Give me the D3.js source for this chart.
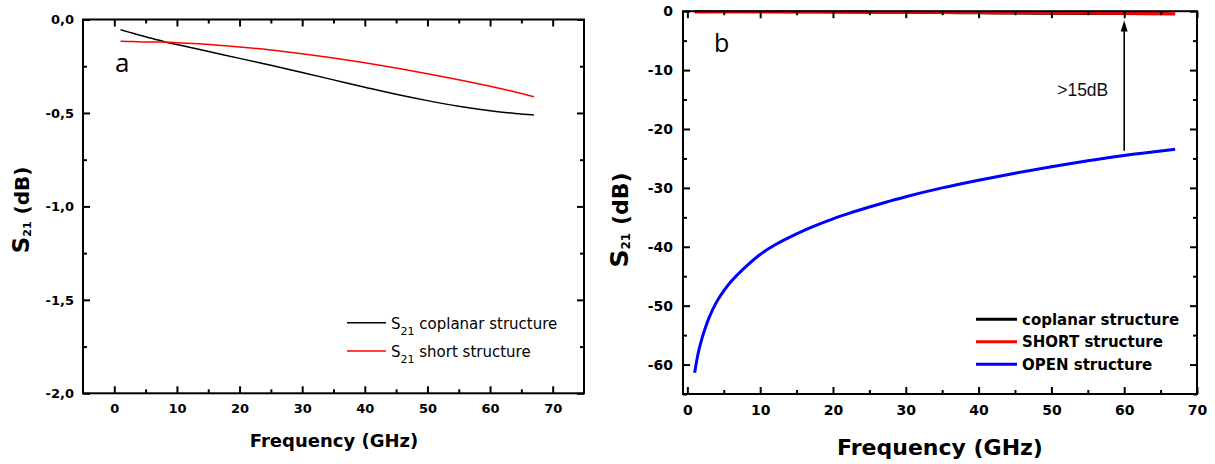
<!DOCTYPE html>
<html><head><meta charset="utf-8">
<script src="https://cdn.jsdelivr.net/npm/d3@7"></script>
<style>body{margin:0;background:#fff}svg{display:block}</style>
</head><body><svg id="c" width="1215" height="464"></svg>
<script>
// ---------- data ----------
const freqA = [1,3,5,8,10,14,20,25,30,35,40,45,50,55,60,64,67];
const coplanarS21 = [-0.055,-0.074,-0.092,-0.119,-0.134,-0.163,-0.208,-0.245,-0.284,-0.323,-0.362,-0.400,-0.434,-0.464,-0.488,-0.503,-0.511];
const shortS21 = [-0.116,-0.118,-0.120,-0.121,-0.124,-0.131,-0.147,-0.163,-0.183,-0.206,-0.232,-0.260,-0.290,-0.322,-0.357,-0.388,-0.413];
const freqOpen = [1,1.5,2,3,4,5,6,8,10,12,15,17.5,20,22.5,25,27.5,30,35,40,45,50,55,60,65,67];
const openS21 = [-61.4,-58.0,-55.6,-52.0,-49.4,-47.5,-45.9,-43.4,-41.3,-39.7,-37.8,-36.45,-35.25,-34.2,-33.25,-32.35,-31.5,-30.0,-28.7,-27.5,-26.4,-25.4,-24.5,-23.75,-23.45];
const xTicks = [0,10,20,30,40,50,60,70];
const xMinor = [5,15,25,35,45,55,65];
const yTicksA = [0,-0.5,-1,-1.5,-2];
const yTickLabelsA = ["0,0","-0,5","-1,0","-1,5","-2,0"];
const yMinorA = [-0.25,-0.75,-1.25,-1.75];
const yTicksB = [0,-10,-20,-30,-40,-50,-60];
const yTickLabelsB = ["0","-10","-20","-30","-40","-50","-60"];
const yMinorB = [-5,-15,-25,-35,-45,-55,-65];
const legendA = ["coplanar structure","short structure"];
const legendB = ["coplanar structure","SHORT structure","OPEN structure"];
const arrowFreq = 60, arrowFrom = -23.7, arrowTo = -1.6, arrowLabel = ">15dB";

// ---------- setup ----------
const svg = d3.select("#c");
svg.append("rect").attr("width",1215).attr("height",464).attr("fill","#fff");
const BOLD = "'DejaVu Sans', sans-serif";

function frameAxes(g, x, y, opt){
  const [x0,x1] = x.range(), [y0,y1] = y.range();
  const style = sel => { sel.select(".domain").remove();
    sel.selectAll("line").attr("stroke","#000").attr("stroke-width",2);
    sel.selectAll("text").attr("font-family",BOLD).attr("font-weight","bold")
       .attr("font-size",opt.tickFont).attr("fill","#000"); };
  g.append("g").attr("transform",`translate(0,${y0})`)
    .call(d3.axisBottom(x).tickValues(xTicks).tickSize(-7).tickPadding(opt.xPad).tickFormat(d=>String(d))).call(style);
  g.append("g").attr("transform",`translate(0,${y0})`)
    .call(d3.axisBottom(x).tickValues(xMinor).tickSize(-4).tickFormat("")).call(style);
  g.append("g").attr("transform",`translate(0,${y1})`)
    .call(d3.axisTop(x).tickValues(xTicks).tickSize(-7).tickFormat("")).call(style);
  g.append("g").attr("transform",`translate(0,${y1})`)
    .call(d3.axisTop(x).tickValues(xMinor).tickSize(-4).tickFormat("")).call(style);
  g.append("g").attr("transform",`translate(${x0},0)`)
    .call(d3.axisLeft(y).tickValues(opt.yTicks).tickSize(-7).tickPadding(opt.yPad)
      .tickFormat(d=>opt.yLabels[opt.yTicks.indexOf(d)])).call(style);
  g.append("g").attr("transform",`translate(${x0},0)`)
    .call(d3.axisLeft(y).tickValues(opt.yMinor).tickSize(-4).tickFormat("")).call(style);
  g.append("g").attr("transform",`translate(${x1},0)`)
    .call(d3.axisRight(y).tickValues(opt.yTicks).tickSize(-7).tickFormat("")).call(style);
  g.append("g").attr("transform",`translate(${x1},0)`)
    .call(d3.axisRight(y).tickValues(opt.yMinor).tickSize(-4).tickFormat("")).call(style);
  g.append("rect").attr("x",x0).attr("y",y1).attr("width",x1-x0).attr("height",y0-y1)
    .attr("fill","none").attr("stroke","#000").attr("stroke-width",2);
}

function yTitle(g, cx, cy, sS, sSub, sRest){
  const t = g.append("text").attr("transform",`translate(${cx},${cy}) rotate(-90)`)
    .attr("text-anchor","middle").attr("font-family",BOLD).attr("font-weight","bold")
    .attr("fill","#000");
  t.append("tspan").attr("font-size",sS).text("S");
  t.append("tspan").attr("font-size",sSub).attr("dy",2).text("21");
  t.append("tspan").attr("font-size",sRest).attr("dy",-2).text(" (dB)");
}

// ---------- panel a ----------
const xA = d3.scaleLinear().domain([-5,75]).range([83,584]);
const yA = d3.scaleLinear().domain([-2,0]).range([393.3,19.5]);
const gA = svg.append("g");
const lineA = d3.line().x((d,i)=>xA(freqA[i])).y(d=>yA(d)).curve(d3.curveCatmullRom.alpha(0.5));
gA.append("path").datum(coplanarS21).attr("d",lineA).attr("fill","none").attr("stroke","#000").attr("stroke-width",1.5);
gA.append("path").datum(shortS21).attr("d",lineA).attr("fill","none").attr("stroke","#ff0000").attr("stroke-width",1.5);
frameAxes(gA, xA, yA, {tickFont:13, xPad:10, yPad:9, yTicks:yTicksA, yMinor:yMinorA, yLabels:yTickLabelsA});
gA.append("text").attr("x",334).attr("y",447).attr("text-anchor","middle")
  .attr("font-family",BOLD).attr("font-weight","bold").attr("font-size",18).text("Frequency (GHz)");
yTitle(gA, 29, 210, 23, 11, 20);
gA.append("text").attr("x",115).attr("y",72).attr("font-family","'Open Sans', sans-serif")
  .attr("font-size",26).text("a");
const colA = ["#000","#ff0000"];
legendA.forEach((lab,i)=>{
  const ly = 322.7 + i*28.3;
  gA.append("line").attr("x1",347).attr("x2",386).attr("y1",ly).attr("y2",ly)
    .attr("stroke",colA[i]).attr("stroke-width",1.5);
  const t = gA.append("text").attr("x",391).attr("y",ly+5.8).attr("font-family",BOLD)
    .attr("font-size",15).attr("fill","#000");
  t.append("tspan").text("S");
  t.append("tspan").attr("font-size",11).attr("dy",6).text("21");
  t.append("tspan").attr("dy",-6).text(" "+lab);
});

// ---------- panel b ----------
const xB = d3.scaleLinear().domain([-0.6,70]).range([683,1197]);
const yB = d3.scaleLinear().domain([-65,0]).range([394,11.2]);
const gB = svg.append("g");
const lineBA = d3.line().x((d,i)=>xB(freqA[i])).y(d=>yB(d)).curve(d3.curveCatmullRom.alpha(0.5));
const lineBO = d3.line().x((d,i)=>xB(freqOpen[i])).y(d=>yB(d)).curve(d3.curveCatmullRom.alpha(0.5));
gB.append("path").datum(openS21).attr("d",lineBO).attr("fill","none").attr("stroke","#0000ff").attr("stroke-width",3);
gB.append("path").datum(coplanarS21).attr("d",lineBA).attr("fill","none").attr("stroke","#000").attr("stroke-width",2);
gB.append("path").datum(shortS21).attr("d",lineBA).attr("fill","none").attr("stroke","#ff0000").attr("stroke-width",3);
frameAxes(gB, xB, yB, {tickFont:14, xPad:11, yPad:10, yTicks:yTicksB, yMinor:yMinorB, yLabels:yTickLabelsB});
gB.append("text").attr("x",940).attr("y",455).attr("text-anchor","middle")
  .attr("font-family",BOLD).attr("font-weight","bold").attr("font-size",22).text("Frequency (GHz)");
yTitle(gB, 628, 220, 25, 12, 22);
gB.append("text").attr("x",714).attr("y",52).attr("font-family","'Open Sans', sans-serif")
  .attr("font-size",25).text("b");
// arrow annotation
const ax = xB(arrowFreq), ayTip = yB(arrowTo), ayBase = yB(arrowFrom);
gB.append("line").attr("x1",ax).attr("x2",ax).attr("y1",ayBase).attr("y2",ayTip+9)
  .attr("stroke","#000").attr("stroke-width",1.6);
gB.append("path").attr("d",`M${ax},${ayTip} L${ax-3.5},${ayTip+11} L${ax+3.5},${ayTip+11} Z`).attr("fill","#000");
gB.append("text").attr("x",ax-67).attr("y",96).attr("font-family","'Liberation Sans', Arial, sans-serif")
  .attr("font-size",17.5).attr("fill","#111").text(arrowLabel);
const colB = ["#000","#ff0000","#0000ff"];
legendB.forEach((lab,i)=>{
  const ly = 319.3 + i*22.5;
  gB.append("line").attr("x1",976).attr("x2",1017).attr("y1",ly).attr("y2",ly)
    .attr("stroke",colB[i]).attr("stroke-width",3);
  gB.append("text").attr("x",1022).attr("y",ly+5.5).attr("font-family",BOLD).attr("font-weight","bold")
    .attr("font-size",15).attr("fill","#000").text(lab);
});
</script></body></html>
